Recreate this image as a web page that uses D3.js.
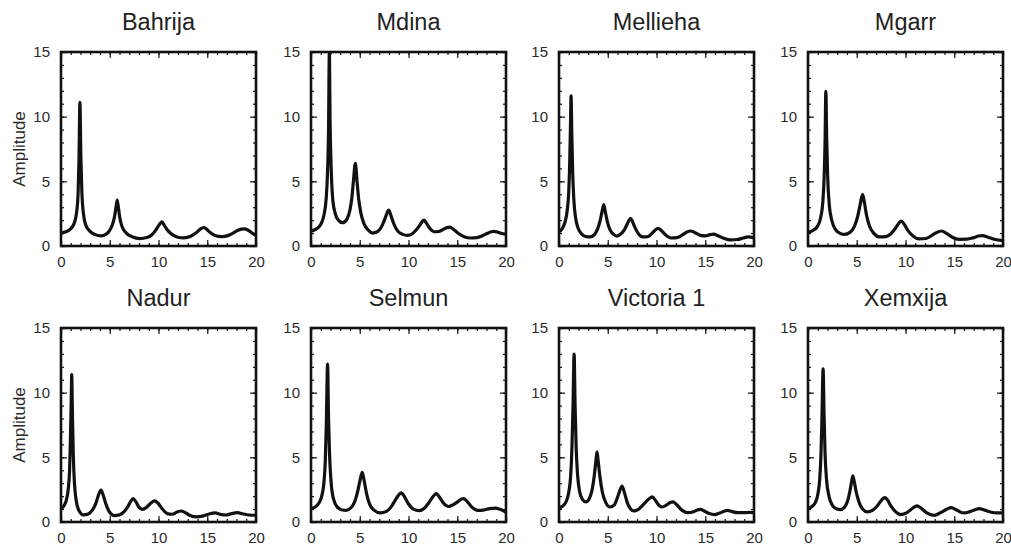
<!DOCTYPE html>
<html>
<head>
<meta charset="utf-8">
<script src="https://cdn.jsdelivr.net/npm/d3@7"></script>
<style>
  body { margin: 0; background: #fff; }
  .chart text { font-family: "Liberation Sans", Arial, Helvetica, sans-serif; }
  .title { font-size: 23.5px; fill: #222; }
  .tick text { font-size: 15px; fill: #2a2a2a; }
  .tick line { stroke: #111; stroke-width: 1.2; }
  .frame { fill: none; stroke: #111; stroke-width: 2.6; }
  .spectrum { fill: none; stroke: #111; stroke-width: 3.2; stroke-linejoin: round; }
  .ylabel { font-size: 17px; fill: #2a2a2a; }
</style>
</head>
<body>
<div class="chart"></div>
<script>
// site names, one panel each
var sites = ["Bahrija", "Mdina", "Mellieha", "Mgarr", "Nadur", "Selmun", "Victoria 1", "Xemxija"];

// [frequency, amplitude]
var bahrija = [[0,1.0],[0.5,1.1],[0.95,1.3],[1.35,1.75],[1.6,2.6],[1.75,4.0],[1.84,6.5],[1.94,11.1],[2.04,6.8],[2.14,4.2],[2.3,2.5],[2.55,1.6],[2.95,1.15],[3.5,0.88],[4.1,0.78],[4.6,0.9],[4.9,1.1],[5.25,1.6],[5.5,2.3],[5.64,3.0],[5.76,3.55],[5.88,3.0],[6.02,2.25],[6.26,1.5],[6.7,1.0],[7.3,0.72],[8.1,0.57],[8.8,0.65],[9.3,0.85],[9.65,1.15],[9.95,1.5],[10.15,1.72],[10.35,1.86],[10.55,1.65],[10.85,1.3],[11.3,0.95],[11.9,0.7],[12.6,0.63],[13.3,0.75],[13.8,0.98],[14.2,1.25],[14.45,1.38],[14.65,1.43],[14.9,1.32],[15.3,1.05],[15.8,0.82],[16.5,0.73],[17.1,0.8],[17.6,0.98],[18.1,1.2],[18.5,1.3],[18.8,1.32],[19.2,1.22],[19.6,1.0],[20,0.82]];
var mdina = [[0,1.15],[0.5,1.3],[0.95,1.6],[1.3,2.3],[1.55,3.6],[1.7,5.8],[1.8,9.0],[1.88,15.0],[1.96,9.5],[2.06,6.2],[2.2,3.9],[2.45,2.6],[2.8,2.0],[3.25,1.8],[3.7,2.1],[4.0,2.8],[4.2,3.8],[4.35,5.0],[4.55,6.4],[4.72,5.0],[4.88,3.7],[5.1,2.6],[5.45,1.7],[5.9,1.2],[6.3,1.0],[6.8,1.1],[7.2,1.45],[7.5,1.95],[7.75,2.45],[7.97,2.77],[8.2,2.35],[8.5,1.7],[8.9,1.15],[9.4,0.9],[9.9,0.82],[10.4,0.95],[10.8,1.25],[11.15,1.6],[11.4,1.88],[11.6,2.0],[11.85,1.75],[12.2,1.35],[12.65,1.1],[13.1,1.12],[13.6,1.3],[13.95,1.42],[14.25,1.46],[14.6,1.3],[15.1,0.98],[15.7,0.72],[16.4,0.62],[17.0,0.65],[17.6,0.8],[18.1,0.98],[18.5,1.1],[18.75,1.13],[19.1,1.08],[19.5,0.98],[20,0.9]];
var mellieha = [[0,1.1],[0.3,1.3],[0.6,1.8],[0.85,2.8],[1.0,4.2],[1.1,6.5],[1.17,9.0],[1.24,11.6],[1.31,8.8],[1.4,5.8],[1.52,3.6],[1.7,2.2],[1.95,1.4],[2.3,0.95],[2.8,0.72],[3.2,0.7],[3.6,0.85],[3.95,1.3],[4.2,1.9],[4.4,2.6],[4.59,3.2],[4.75,2.65],[4.95,1.9],[5.2,1.3],[5.6,0.9],[5.95,0.77],[6.3,0.9],[6.7,1.25],[7.0,1.7],[7.2,2.0],[7.34,2.13],[7.5,1.95],[7.75,1.5],[8.1,1.0],[8.6,0.7],[9.1,0.72],[9.5,0.95],[9.85,1.22],[10.17,1.36],[10.5,1.2],[10.9,0.88],[11.5,0.62],[12.1,0.65],[12.7,0.88],[13.1,1.07],[13.5,1.16],[13.9,1.05],[14.5,0.82],[15.0,0.78],[15.5,0.88],[15.86,0.92],[16.3,0.8],[16.9,0.6],[17.6,0.47],[18.3,0.5],[18.9,0.62],[19.4,0.7],[20,0.62]];
var mgarr = [[0,1.05],[0.5,1.2],[0.95,1.5],[1.3,2.2],[1.52,3.4],[1.65,5.2],[1.75,8.0],[1.83,11.95],[1.92,8.2],[2.02,5.3],[2.18,3.2],[2.45,1.95],[2.85,1.25],[3.3,0.98],[3.75,0.9],[4.3,1.05],[4.75,1.5],[5.1,2.3],[5.35,3.2],[5.6,4.0],[5.8,3.3],[6.0,2.4],[6.3,1.55],[6.75,0.98],[7.4,0.7],[8.0,0.72],[8.5,0.95],[8.95,1.35],[9.3,1.75],[9.57,1.93],[9.85,1.7],[10.2,1.25],[10.7,0.82],[11.4,0.55],[12.1,0.58],[12.7,0.82],[13.2,1.05],[13.7,1.16],[14.2,0.98],[14.8,0.68],[15.5,0.52],[16.3,0.53],[17.0,0.65],[17.5,0.77],[17.9,0.8],[18.4,0.7],[19.1,0.52],[20,0.41]];
var nadur = [[0,1.03],[0.3,1.25],[0.55,1.7],[0.75,2.6],[0.88,4.0],[0.97,6.5],[1.04,9.0],[1.1,11.4],[1.17,8.5],[1.26,5.2],[1.38,3.0],[1.55,1.7],[1.8,0.95],[2.3,0.55],[2.8,0.62],[3.25,0.95],[3.6,1.5],[3.85,2.1],[4.1,2.46],[4.32,2.1],[4.6,1.4],[4.95,0.8],[5.45,0.5],[6.0,0.55],[6.5,0.82],[6.9,1.25],[7.2,1.65],[7.4,1.81],[7.65,1.6],[7.95,1.2],[8.35,0.97],[8.8,1.15],[9.2,1.45],[9.6,1.63],[9.95,1.45],[10.4,1.0],[10.9,0.65],[11.4,0.6],[11.9,0.77],[12.3,0.85],[12.75,0.72],[13.3,0.48],[13.9,0.39],[14.5,0.45],[15.2,0.62],[15.8,0.7],[16.4,0.58],[16.9,0.54],[17.5,0.65],[18.1,0.72],[18.7,0.62],[19.3,0.54],[20,0.52]];
var selmun = [[0,1.03],[0.4,1.15],[0.8,1.45],[1.1,2.0],[1.32,3.0],[1.47,4.8],[1.57,7.5],[1.7,12.2],[1.8,8.0],[1.9,5.3],[2.05,3.2],[2.3,1.8],[2.7,1.15],[3.2,0.93],[3.6,0.9],[4.1,1.1],[4.5,1.6],[4.8,2.4],[5.05,3.3],[5.26,3.83],[5.45,3.2],[5.7,2.2],[6.0,1.4],[6.5,0.9],[7.1,0.7],[7.7,0.8],[8.2,1.15],[8.65,1.7],[9.0,2.1],[9.26,2.25],[9.55,2.0],[9.95,1.45],[10.5,1.0],[11.1,0.88],[11.6,1.05],[12.1,1.5],[12.5,1.95],[12.85,2.2],[13.2,1.9],[13.6,1.45],[14.1,1.2],[14.6,1.35],[15.1,1.6],[15.45,1.78],[15.66,1.8],[16.0,1.6],[16.5,1.15],[17.1,0.9],[17.7,0.92],[18.3,1.03],[18.9,1.08],[19.4,0.98],[20,0.75]];
var victoria1 = [[0,1.08],[0.4,1.25],[0.75,1.6],[1.0,2.3],[1.2,3.6],[1.33,5.8],[1.44,9.0],[1.55,12.98],[1.65,9.0],[1.76,5.8],[1.9,3.7],[2.1,2.4],[2.4,1.75],[2.76,1.55],[3.1,1.8],[3.4,2.5],[3.62,3.6],[3.78,4.7],[3.9,5.43],[4.02,4.7],[4.2,3.5],[4.45,2.3],[4.8,1.5],[5.25,1.16],[5.65,1.3],[5.95,1.8],[6.2,2.35],[6.46,2.77],[6.7,2.3],[7.0,1.5],[7.35,1.0],[7.67,0.85],[8.1,0.95],[8.6,1.3],[9.1,1.7],[9.57,1.94],[9.95,1.6],[10.3,1.25],[10.6,1.16],[11.0,1.3],[11.4,1.5],[11.7,1.55],[12.05,1.35],[12.6,0.92],[13.2,0.72],[13.8,0.8],[14.2,0.93],[14.5,0.98],[14.9,0.85],[15.4,0.65],[15.96,0.57],[16.5,0.7],[17.0,0.85],[17.3,0.9],[17.7,0.82],[18.3,0.72],[18.9,0.72],[19.5,0.74],[20,0.72]];
var xemxija = [[0,1.03],[0.4,1.2],[0.75,1.5],[1.0,2.1],[1.2,3.3],[1.33,5.2],[1.43,8.0],[1.55,11.85],[1.65,8.2],[1.75,5.3],[1.9,3.3],[2.15,2.0],[2.5,1.3],[2.9,1.02],[3.33,0.96],[3.75,1.15],[4.05,1.6],[4.3,2.4],[4.47,3.1],[4.6,3.57],[4.75,3.1],[4.95,2.3],[5.25,1.5],[5.6,1.0],[6.08,0.78],[6.6,0.9],[7.05,1.2],[7.45,1.6],[7.7,1.82],[7.9,1.89],[8.15,1.7],[8.5,1.25],[8.95,0.82],[9.5,0.57],[10.1,0.7],[10.6,0.98],[10.95,1.18],[11.2,1.24],[11.55,1.1],[12.1,0.75],[12.95,0.52],[13.6,0.72],[14.2,0.98],[14.7,1.11],[15.2,0.95],[15.6,0.78],[16.05,0.7],[16.6,0.8],[17.2,0.97],[17.6,1.03],[18.1,0.92],[18.8,0.75],[19.4,0.7],[20,0.7]];

var series = [bahrija, mdina, mellieha, mgarr, nadur, selmun, victoria1, xemxija];

var xTicks = [0, 5, 10, 15, 20];
var yTicks = [0, 5, 10, 15];
var xMinor = d3.range(0, 21, 1);
var yMinor = d3.range(0, 16, 1);

var width = 1011, height = 545;
var panelW = 195, panelH = 194;
var lefts = [61, 311, 559, 808];
var tops = [52, 328];

var svg = d3.select(".chart").append("svg")
  .attr("width", width)
  .attr("height", height);

svg.append("rect")
  .attr("width", width)
  .attr("height", height)
  .attr("fill", "#fff");

var x = d3.scaleLinear().domain([0, 20]).range([0, panelW]);
var y = d3.scaleLinear().domain([0, 15]).range([panelH, 0]);

var line = d3.line()
  .x(function(d) { return x(d[0]); })
  .y(function(d) { return y(d[1]); })
  .curve(d3.curveMonotoneX);

svg.append("defs").append("clipPath")
    .attr("id", "plot-clip")
  .append("rect")
    .attr("width", panelW)
    .attr("height", panelH);

sites.forEach(function(name, i) {
  var col = i % 4, row = Math.floor(i / 4);
  var g = svg.append("g")
    .attr("transform", "translate(" + lefts[col] + "," + tops[row] + ")");

  // minor ticks, all four sides, pointing in
  g.append("g").attr("transform", "translate(0," + panelH + ")")
    .call(d3.axisBottom(x).tickValues(xMinor).tickSize(-3).tickFormat(""));
  g.append("g")
    .call(d3.axisTop(x).tickValues(xMinor).tickSize(-3).tickFormat(""));
  g.append("g")
    .call(d3.axisLeft(y).tickValues(yMinor).tickSize(-3).tickFormat(""));
  g.append("g").attr("transform", "translate(" + panelW + ",0)")
    .call(d3.axisRight(y).tickValues(yMinor).tickSize(-3).tickFormat(""));

  // major ticks
  g.append("g").attr("transform", "translate(0," + panelH + ")")
    .call(d3.axisBottom(x).tickValues(xTicks).tickSize(-6).tickPadding(10).tickFormat(d3.format("d")));
  g.append("g")
    .call(d3.axisTop(x).tickValues(xTicks).tickSize(-6).tickFormat(""));
  g.append("g")
    .call(d3.axisLeft(y).tickValues(yTicks).tickSize(-6).tickPadding(11).tickFormat(d3.format("d")));
  g.append("g").attr("transform", "translate(" + panelW + ",0)")
    .call(d3.axisRight(y).tickValues(yTicks).tickSize(-6).tickFormat(""));

  g.selectAll(".domain").remove();
  g.selectAll(".tick text").attr("font-family", null).attr("font-size", null).attr("fill", null);

  g.append("path")
    .datum(series[i])
    .attr("class", "spectrum")
    .attr("clip-path", "url(#plot-clip)")
    .attr("d", line);

  g.append("rect")
    .attr("class", "frame")
    .attr("width", panelW)
    .attr("height", panelH);

  g.append("text")
    .attr("class", "title")
    .attr("x", panelW / 2)
    .attr("y", -22)
    .attr("text-anchor", "middle")
    .text(name);

  if (col === 0) {
    g.append("text")
      .attr("class", "ylabel")
      .attr("transform", "translate(" + (-42) + "," + (panelH / 2) + ") rotate(-90)")
      .attr("text-anchor", "middle")
      .attr("dy", "0.35em")
      .text("Amplitude");
  }
});
</script>
</body>
</html>
